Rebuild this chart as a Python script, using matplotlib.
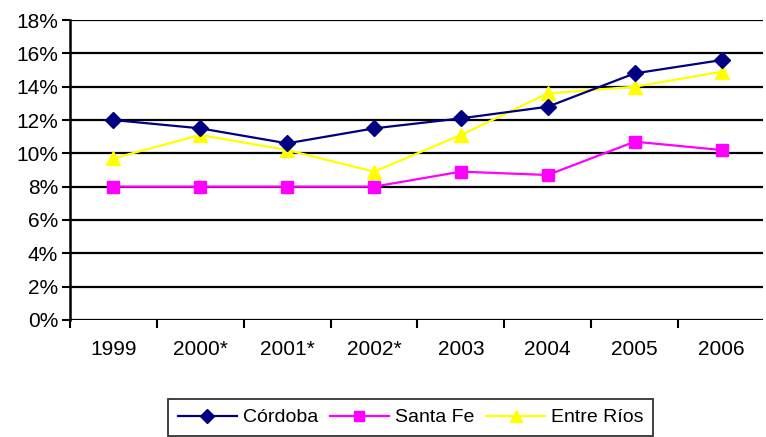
import matplotlib.pyplot as plt
import numpy as np

plt.rcParams['font.family'] = ['Liberation Sans', 'DejaVu Sans']

years = ["1999", "2000*", "2001*", "2002*", "2003", "2004", "2005", "2006"]
cordoba = [12.0, 11.5, 10.6, 11.5, 12.1, 12.8, 14.8, 15.6]
santa_fe = [8.0, 8.0, 8.0, 8.0, 8.9, 8.7, 10.7, 10.2]
entre_rios = [9.7, 11.1, 10.2, 8.9, 11.1, 13.6, 14.0, 14.9]
y_ticks = list(range(0, 19, 2))

fig = plt.figure(figsize=(7.66, 4.37), dpi=100)
ax = fig.add_axes([0.0914, 0.268, 0.905, 0.686])
x = np.arange(len(years))

for yv in y_ticks:
    ax.axhline(yv, color="black", lw=1.6, zorder=1)

ax.plot(x, cordoba, color="#000080", marker="D", ms=8, lw=1.6, label="Córdoba", zorder=3)
ax.plot(x, santa_fe, color="#FF00FF", marker="s", ms=8, lw=1.6, label="Santa Fe", zorder=3)
ax.plot(x, entre_rios, color="#FFFF00", marker="^", ms=10, lw=1.6, label="Entre Ríos", zorder=2)

ax.set_xlim(-0.5, len(years) - 0.52)
ax.set_ylim(0, 18)
ax.set_yticks(y_ticks)
ax.set_yticklabels([f"{v}%" for v in y_ticks], fontsize=15)

ax.set_xticks(x)
ax.set_xticklabels(years, fontsize=15)
ax.set_xticks(np.arange(-0.5, len(years) - 0.5, 1), minor=True)
ax.tick_params(axis="x", which="major", length=0, pad=14.5)
ax.tick_params(axis="x", which="minor", length=5.5, width=1.5, direction="out")
ax.tick_params(axis="y", length=5.5, width=1.5, direction="out", pad=3)

for s in ["top", "right", "bottom"]:
    ax.spines[s].set_visible(False)
ax.spines["left"].set_linewidth(1.8)

leg = fig.legend(loc="upper left", bbox_to_anchor=(0.2193, 0.087), ncol=3,
                 fontsize=14, frameon=True, fancybox=False, edgecolor="black",
                 handlelength=3.05, columnspacing=0.6, handletextpad=0.3,
                 borderpad=0.5, borderaxespad=0, markerscale=0.9)
leg.get_frame().set_linewidth(1.3)

fig.savefig("out.png", dpi=100)
